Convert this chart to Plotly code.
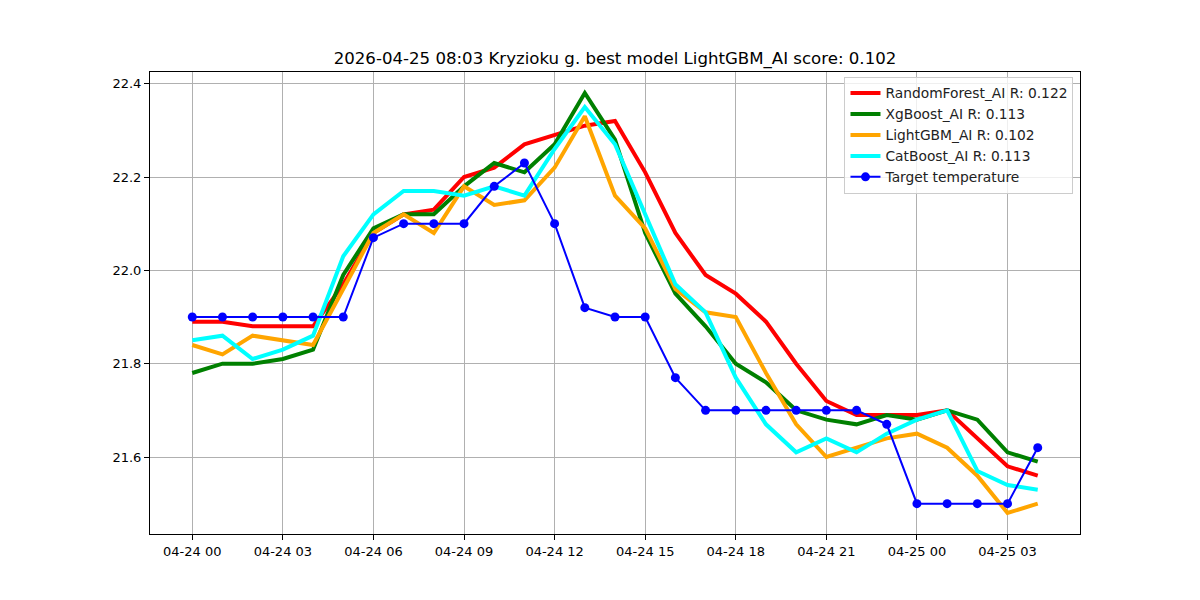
import plotly.graph_objects as go
import pandas as pd

times = pd.date_range("2026-04-24 00:00", periods=29, freq="h")

random_forest = [21.89, 21.89, 21.88, 21.88, 21.88, 21.97, 22.08, 22.12, 22.13, 22.20, 22.22, 22.27, 22.29, 22.31, 22.32,
                 22.21, 22.08, 21.99, 21.95, 21.89, 21.80, 21.72, 21.69, 21.69, 21.69, 21.70, 21.64, 21.58, 21.56]
xgboost = [21.78, 21.80, 21.80, 21.81, 21.83, 21.99, 22.09, 22.12, 22.12, 22.18, 22.23, 22.21, 22.27, 22.38, 22.28,
           22.08, 21.95, 21.88, 21.80, 21.76, 21.70, 21.68, 21.67, 21.69, 21.68, 21.70, 21.68, 21.61, 21.59]
lightgbm = [21.84, 21.82, 21.86, 21.85, 21.84, 21.96, 22.08, 22.12, 22.08, 22.18, 22.14, 22.15, 22.22, 22.33, 22.16,
            22.09, 21.96, 21.91, 21.90, 21.78, 21.67, 21.60, 21.62, 21.64, 21.65, 21.62, 21.56, 21.48, 21.50]
catboost = [21.85, 21.86, 21.81, 21.83, 21.86, 22.03, 22.12, 22.17, 22.17, 22.16, 22.18, 22.16, 22.26, 22.35, 22.27,
            22.12, 21.97, 21.91, 21.77, 21.67, 21.61, 21.64, 21.61, 21.65, 21.68, 21.70, 21.57, 21.54, 21.53]
target = [21.90, 21.90, 21.90, 21.90, 21.90, 21.90, 22.07, 22.10, 22.10, 22.10, 22.18, 22.23, 22.10, 21.92, 21.90,
          21.90, 21.77, 21.70, 21.70, 21.70, 21.70, 21.70, 21.70, 21.67, 21.50, 21.50, 21.50, 21.50, 21.62]

series_names = ["RandomForest_AI R: 0.122", "XgBoost_AI R: 0.113", "LightGBM_AI R: 0.102", "CatBoost_AI R: 0.113"]
series_values = [random_forest, xgboost, lightgbm, catboost]
series_colors = ["red", "green", "orange", "cyan"]

tick_times = pd.date_range("2026-04-24 00:00", "2026-04-25 03:00", freq="3h")
tick_labels = [t.strftime("%m-%d %H") for t in tick_times]

fig = go.Figure()
for name, vals, col in zip(series_names, series_values, series_colors):
    fig.add_trace(go.Scatter(x=times, y=vals, mode="lines", name=name,
                             line=dict(color=col, width=4)))
fig.add_trace(go.Scatter(x=times, y=target, mode="lines+markers", name="Target temperature",
                         line=dict(color="blue", width=2), marker=dict(color="blue", size=9)))

span = pd.Timedelta(hours=28)
xmin = times[0] - span * 0.05
xmax = times[-1] + span * 0.05
allv = sum(series_values, []) + target
lo, hi = min(allv), max(allv)
m = (hi - lo) * 0.05

axis_common = dict(showline=True, linecolor="black", linewidth=1, mirror=True,
                   showgrid=True, gridcolor="#b0b0b0", gridwidth=1,
                   ticks="outside", ticklen=5, tickcolor="black",
                   tickfont=dict(family="DejaVu Sans", size=13, color="black"), zeroline=False)

fig.update_layout(
    width=1200, height=600,
    margin=dict(l=150, r=120, t=72, b=66),
    paper_bgcolor="white", plot_bgcolor="white",
    title=dict(text="2026-04-25 08:03 Kryzioku g. best model LightGBM_AI score: 0.102",
               x=615 / 1200, xanchor="center", y=1 - 58 / 600, yanchor="middle",
               font=dict(family="DejaVu Sans", size=16.6, color="black")),
    xaxis=dict(range=[xmin, xmax], tickvals=tick_times, ticktext=tick_labels, **axis_common),
    yaxis=dict(range=[lo - m, hi + m], tickvals=[21.6, 21.8, 22.0, 22.2, 22.4],
               ticktext=["21.6", "21.8", "22.0", "22.2", "22.4"], **axis_common),
    legend=dict(x=0.993, y=0.99, xanchor="right", yanchor="top",
                bgcolor="rgba(255,255,255,0.8)", bordercolor="#cccccc", borderwidth=1,
                font=dict(family="DejaVu Sans", size=13.8, color="#222222"),
                itemwidth=30, tracegroupgap=0),
    showlegend=True,
)

fig.write_html("out.html")
